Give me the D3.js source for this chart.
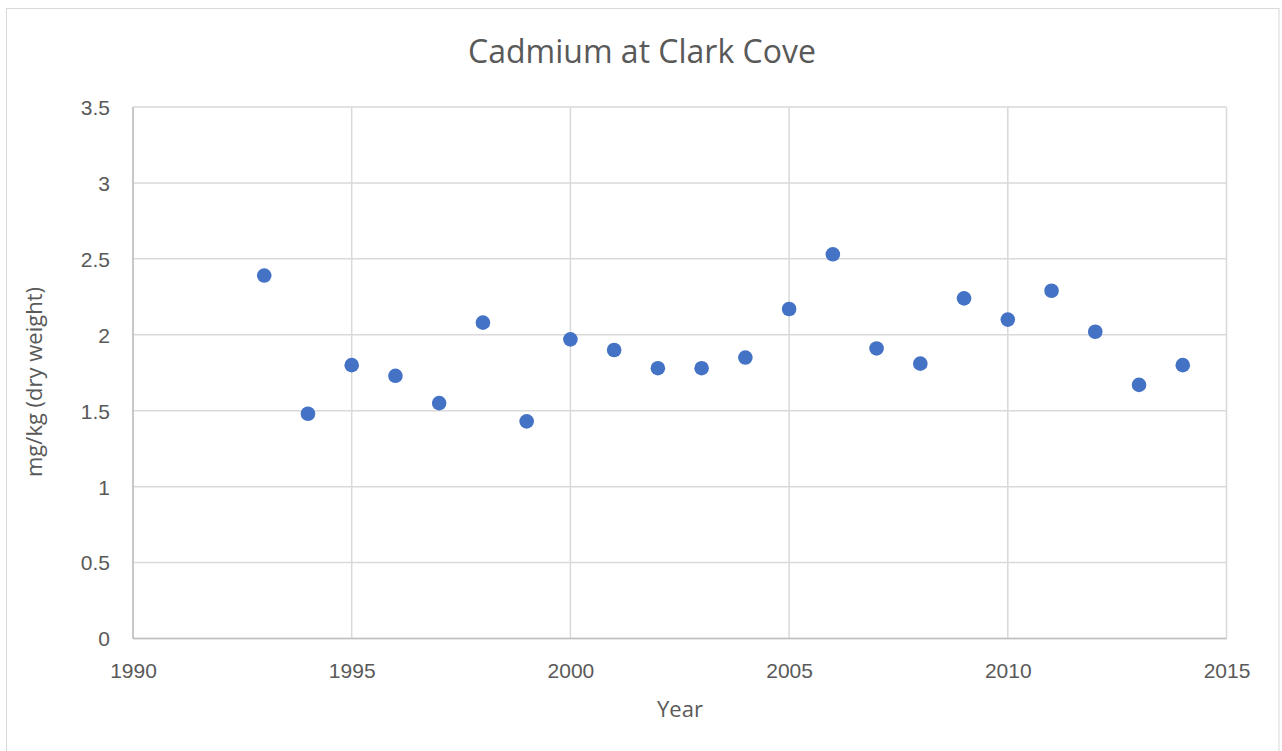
<!DOCTYPE html>
<html>
<head>
<meta charset="utf-8">
<script src="https://cdn.jsdelivr.net/npm/d3@7"></script>
<style>
  html, body { margin: 0; padding: 0; background: #fff; }
  svg { display: block; font-family: "Open Sans", "Liberation Sans", sans-serif; }
</style>
</head>
<body>
<svg id="chart" width="1282" height="751"></svg>
<script>
// Cadmium concentration (mg/kg dry weight) by sampling year
const years = [1993, 1994, 1995, 1996, 1997, 1998, 1999, 2000, 2001, 2002, 2003,
               2004, 2005, 2006, 2007, 2008, 2009, 2010, 2011, 2012, 2013, 2014];
const cadmium = [2.39, 1.48, 1.80, 1.73, 1.55, 2.08, 1.43, 1.97, 1.90, 1.78, 1.78,
                 1.85, 2.17, 2.53, 1.91, 1.81, 2.24, 2.10, 2.29, 2.02, 1.67, 1.80];
const xTicks = [1990, 1995, 2000, 2005, 2010, 2015];
const yTicks = [0, 0.5, 1, 1.5, 2, 2.5, 3, 3.5];

const svg = d3.select("#chart");
const plot = { left: 133, top: 107, right: 1226.5, bottom: 638.5 };

// chart frame
svg.append("rect")
  .attr("x", 6.5).attr("y", 8.5)
  .attr("width", 1272.5).attr("height", 760)
  .attr("fill", "#fff").attr("stroke", "#d9d9d9").attr("stroke-width", 1);

const x = d3.scaleLinear().domain([1990, 2015]).range([plot.left, plot.right]);
const y = d3.scaleLinear().domain([0, 3.5]).range([plot.bottom, plot.top]);

// gridlines
const grid = svg.append("g");
grid.selectAll("line.h").data(yTicks).join("line")
  .attr("x1", plot.left).attr("x2", plot.right)
  .attr("y1", d => y(d)).attr("y2", d => y(d))
  .attr("stroke", "#d9d9d9").attr("stroke-width", 1.5);
grid.selectAll("line.v").data(xTicks).join("line")
  .attr("y1", plot.top).attr("y2", plot.bottom)
  .attr("x1", d => x(d)).attr("x2", d => x(d))
  .attr("stroke", "#d9d9d9").attr("stroke-width", 1.5);

// axis lines (left and bottom)
svg.append("line")
  .attr("x1", plot.left).attr("x2", plot.left)
  .attr("y1", plot.top).attr("y2", plot.bottom)
  .attr("stroke", "#bfbfbf").attr("stroke-width", 1.5);
svg.append("line")
  .attr("x1", plot.left).attr("x2", plot.right)
  .attr("y1", plot.bottom).attr("y2", plot.bottom)
  .attr("stroke", "#bfbfbf").attr("stroke-width", 1.5);

// x axis labels
const xAxis = d3.axisBottom(x).tickValues(xTicks).tickFormat(d3.format("d")).tickSize(0).tickPadding(0);
const gx = svg.append("g").attr("transform", `translate(0,${plot.bottom})`).call(xAxis);
gx.select(".domain").remove();
gx.selectAll("text")
  .attr("y", 39).attr("dy", null)
  .attr("fill", "#595959").style("font-size", "21px");

// y axis labels
const yAxis = d3.axisLeft(y).tickValues(yTicks).tickFormat(d => String(d)).tickSize(0).tickPadding(0);
const gy = svg.append("g").attr("transform", `translate(${plot.left},0)`).call(yAxis);
gy.select(".domain").remove();
gy.selectAll("text")
  .attr("x", -23).attr("dy", "0.35em")
  .attr("fill", "#595959").style("font-size", "21px");

// data points
svg.append("g").selectAll("circle").data(years).join("circle")
  .attr("cx", d => x(d))
  .attr("cy", (d, i) => y(cadmium[i]))
  .attr("r", 7.3)
  .attr("fill", "#4472c4");

// title
svg.append("text")
  .attr("x", 642).attr("y", 63)
  .attr("text-anchor", "middle")
  .attr("fill", "#595959")
  .style("font-size", "32px")
  .text("Cadmium at Clark Cove");

// axis titles
svg.append("text")
  .attr("x", 680).attr("y", 717)
  .attr("text-anchor", "middle")
  .attr("fill", "#595959")
  .style("font-size", "22px")
  .text("Year");

svg.append("text")
  .attr("transform", "translate(42,382) rotate(-90)")
  .attr("text-anchor", "middle")
  .attr("fill", "#595959")
  .style("font-size", "22px")
  .text("mg/kg (dry weight)");
</script>
</body>
</html>
